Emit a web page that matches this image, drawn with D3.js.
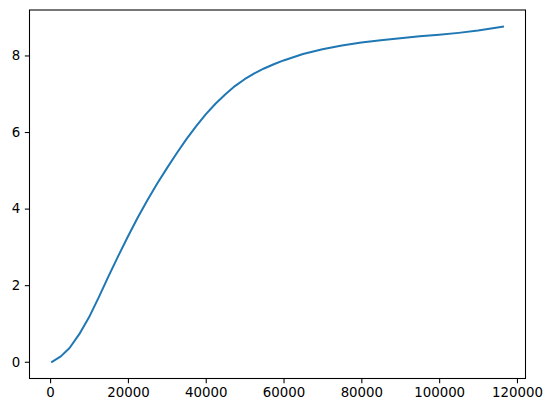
<!DOCTYPE html>
<html>
<head>
<meta charset="utf-8">
<script src="https://cdn.jsdelivr.net/npm/d3@7"></script>
<style>
  html, body { margin: 0; padding: 0; background: #fff; }
  svg { display: block; }
  text { font-family: "DejaVu Sans", sans-serif; font-size: 13.33px; fill: #000; }
</style>
</head>
<body>
<script>
const xValues = [500, 2750, 5000, 7500, 10000, 12500, 15000, 17500, 20000, 22500, 25000, 27500, 30000, 32500, 35000, 37500, 40000, 42500, 45000, 47500, 50000, 52500, 55000, 57500, 60000, 65000, 70000, 75000, 80000, 85000, 90000, 95000, 100000, 105000, 110000, 116400];
const yValues = [0, 0.14, 0.36, 0.72, 1.16, 1.68, 2.23, 2.76, 3.27, 3.76, 4.22, 4.65, 5.05, 5.44, 5.81, 6.15, 6.46, 6.74, 6.98, 7.20, 7.38, 7.53, 7.66, 7.77, 7.87, 8.04, 8.16, 8.26, 8.34, 8.40, 8.45, 8.50, 8.54, 8.59, 8.65, 8.75];
const xTicks = [0, 20000, 40000, 60000, 80000, 100000, 120000];
const yTicks = [0, 2, 4, 6, 8];

const W = 553, H = 413;
const mLeft = 29.5, mRight = 525.5, mTop = 10, mBottom = 378.5;

const data = xValues.map((x, i) => ({x, y: yValues[i]}));
const xmin = d3.min(xValues), xmax = d3.max(xValues);
const ymin = d3.min(yValues), ymax = d3.max(yValues);
const xr = xmax - xmin, yr = ymax - ymin;

const x = d3.scaleLinear().domain([xmin - 0.05 * xr, xmax + 0.05 * xr]).range([mLeft, mRight]);
const y = d3.scaleLinear().domain([ymin - 0.05 * yr, ymax + 0.05 * yr]).range([mBottom, mTop]);

const svg = d3.select("body").append("svg").attr("width", W).attr("height", H);

const line = d3.line().x(d => x(d.x)).y(d => y(d.y));
svg.append("path").datum(data)
  .attr("d", line)
  .attr("fill", "none")
  .attr("stroke", "#1f77b4")
  .attr("stroke-width", 2)
  .attr("stroke-linejoin", "round")
  .attr("stroke-linecap", "square");

const xAxis = d3.axisBottom(x).tickValues(xTicks).tickFormat(d3.format("d")).tickSize(4.67).tickPadding(4.67);
const yAxis = d3.axisLeft(y).tickValues(yTicks).tickFormat(d3.format("d")).tickSize(4.67).tickPadding(4.67);

const gx = svg.append("g").attr("transform", `translate(0,${mBottom})`).call(xAxis);
const gy = svg.append("g").attr("transform", `translate(${mLeft},0)`).call(yAxis);
[gx, gy].forEach(g => {
  g.select(".domain").remove();
  g.selectAll(".tick line").attr("stroke", "#000").attr("stroke-width", 1.07);
  g.selectAll(".tick text").attr("fill", "#000").style("font-family", "DejaVu Sans, sans-serif").style("font-size", "13.33px");
});

svg.append("rect")
  .attr("x", mLeft).attr("y", mTop)
  .attr("width", mRight - mLeft).attr("height", mBottom - mTop)
  .attr("fill", "none").attr("stroke", "#000").attr("stroke-width", 1.07);
</script>
</body>
</html>
